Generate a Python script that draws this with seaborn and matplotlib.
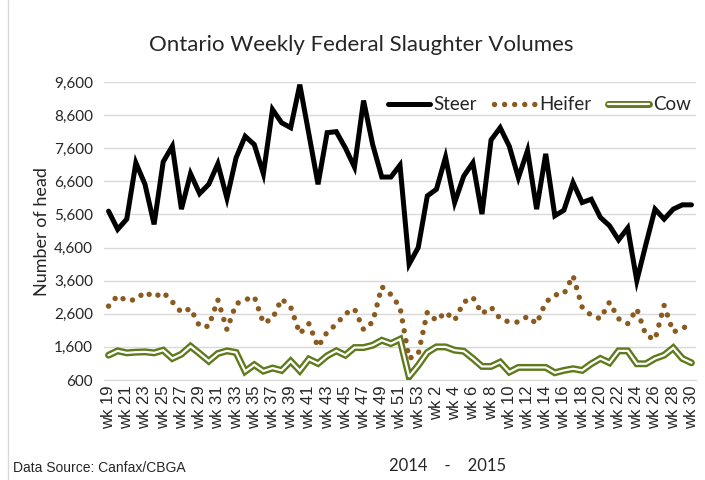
import numpy as np
import pandas as pd
import matplotlib
matplotlib.use("Agg")
import matplotlib.pyplot as plt
from matplotlib.lines import Line2D
import seaborn as sns

# ---------------------------------------------------------------
# Data
# ---------------------------------------------------------------
weeks_2014 = [f"wk {w}" for w in range(19, 54)]
weeks_2015 = [f"wk {w}" for w in range(1, 31)]
weeks = weeks_2014 + weeks_2015

steer = [5700, 5150, 5460, 7160, 6510, 5300, 7190, 7660, 5760, 6830,
         6230, 6510, 7130, 6090, 7310, 7960, 7710, 6830, 8770, 8370,
         8220, 9520, 8020, 6510, 8070, 8100, 7610, 7030, 9040, 7710,
         6730, 6730, 7090, 4100, 4600, 6160, 6360, 7330, 5960, 6760,
         7160, 5610, 7850, 8220, 7660, 6710, 7530, 5760, 7430, 5560,
         5730, 6560, 5960, 6060, 5510, 5260, 4830, 5190, 3600, 4700,
         5760, 5460, 5760, 5890, 5890]

heifer = [2830, 3150, 2990, 3030, 3260, 3100, 3250, 2960, 2640, 2760,
          2220, 2220, 3020, 2120, 2900, 3020, 3120, 2320, 2450, 3050,
          2800, 2000, 2300, 1600, 2050, 2280, 2600, 2750, 2120, 2350,
          3420, 3180, 2800, 1250, 1380, 2650, 2390, 2650, 2400, 2950,
          3100, 2600, 2800, 2450, 2350, 2350, 2520, 2300, 2950, 3170,
          3200, 3750, 2800, 2550, 2450, 2950, 2450, 2300, 2750, 1950,
          1820, 2850, 2050, 2150, 2320]

cow = [1350, 1480, 1420, 1440, 1450, 1420, 1500, 1250, 1380, 1620,
       1400, 1170, 1400, 1480, 1430, 860, 1060, 870, 960, 890,
       1170, 880, 1230, 1100, 1330, 1480, 1350, 1580, 1580, 1650,
       1800, 1700, 1830, 700, 1040, 1430, 1600, 1600, 1500, 1470,
       1250, 1010, 1010, 1140, 840, 980, 980, 980, 980, 820,
       890, 940, 890, 1090, 1250, 1120, 1480, 1480, 1090, 1090,
       1250, 1350, 1570, 1250, 1120]

y_ticks = [600, 1600, 2600, 3600, 4600, 5600, 6600, 7600, 8600, 9600]

df = pd.DataFrame({"week": weeks, "Steer": steer, "Heifer": heifer, "Cow": cow})
df["pos"] = np.arange(len(df))

STEER_C = "black"
HEIFER_C = "#8a5a1f"
COW_C = "#5f7a1c"
GRID_C = "#d9d9d9"

COW_W, COW_CORE = 5.0, 1.6
DOTS = (0, (0.01, 1.85))

sns.set_style("white")
plt.rcParams["font.family"] = ["Lato", "DejaVu Sans"]

fig = plt.figure(figsize=(7.05, 4.8), dpi=100)
ax = fig.add_axes([104 / 705, 1 - 380 / 480, 592 / 705, 298 / 480])

# cow: double line (olive outline, white core)
sns.lineplot(data=df, x="pos", y="Cow", ax=ax, color=COW_C, lw=COW_W,
             solid_joinstyle="miter", zorder=3)
sns.lineplot(data=df, x="pos", y="Cow", ax=ax, color="white", lw=COW_CORE,
             solid_joinstyle="miter", zorder=4)
# heifer: round-dot line
sns.lineplot(data=df, x="pos", y="Heifer", ax=ax, color=HEIFER_C, lw=3.9,
             linestyle=DOTS, dash_capstyle="round", zorder=5)
# steer
sns.lineplot(data=df, x="pos", y="Steer", ax=ax, color=STEER_C, lw=3.6,
             solid_joinstyle="miter", zorder=6)

ax.set_xlim(-0.5, len(df) - 0.5)
ax.set_ylim(600, 9600)
ax.set_yticks(y_ticks)
ax.set_yticklabels([f"{v:,}" for v in y_ticks], fontsize=11)
ax.yaxis.grid(True, color=GRID_C, lw=1)
ax.set_axisbelow(True)

ax.set_xticks(df["pos"][::2])
ax.set_xticklabels(df["week"][::2], rotation=90, fontsize=12,
                   family=["Liberation Sans", "DejaVu Sans"])
ax.set_xticks(np.arange(-0.5, len(df)), minor=True)
ax.tick_params(axis="x", which="major", length=0, pad=4)
ax.tick_params(axis="x", which="minor", length=5, color=GRID_C, width=1)
ax.tick_params(axis="y", length=0, pad=8)

for s in ["top", "right", "left"]:
    ax.spines[s].set_visible(False)
ax.spines["bottom"].set_color(GRID_C)
ax.set_xlabel("")
ax.set_ylabel("")

# legend
h_steer = Line2D([], [], color=STEER_C, lw=3.6)
h_heifer = Line2D([], [], color=HEIFER_C, lw=3.9, linestyle=DOTS,
                  dash_capstyle="round")
h_cow = (Line2D([], [], color=COW_C, lw=COW_W),
         Line2D([], [], color="white", lw=COW_CORE))
ax.legend([h_steer, h_heifer, h_cow], ["Steer", "Heifer", "Cow"], ncol=3,
          loc="upper right", bbox_to_anchor=(1.01, 0.99), frameon=False,
          fontsize=13.5, handlelength=2.2, handletextpad=0.2, columnspacing=0.9,
          borderaxespad=0.2)

# texts
fig.text(361 / 705, 1 - 45 / 480, "Ontario Weekly Federal Slaughter Volumes",
         ha="center", va="center", fontsize=16)
fig.text(42 / 705, 1 - 232 / 480, "Number of head", rotation=90,
         ha="center", va="center", fontsize=13)
fig.text(13 / 705, 1 - 468 / 480, "Data Source: Canfax/CBGA", ha="left",
         va="center", fontsize=10,
         family=["Liberation Sans Narrow", "Liberation Sans", "DejaVu Sans"])
fig.text(448 / 705, 1 - 466 / 480, "2014    -    2015", ha="center",
         va="center", fontsize=12)

# chart-area border on the left
fig.add_artist(Line2D([7.5 / 705, 7.5 / 705], [0, 1], transform=fig.transFigure,
                      color=GRID_C, lw=1))

fig.savefig("out.png", dpi=100)
